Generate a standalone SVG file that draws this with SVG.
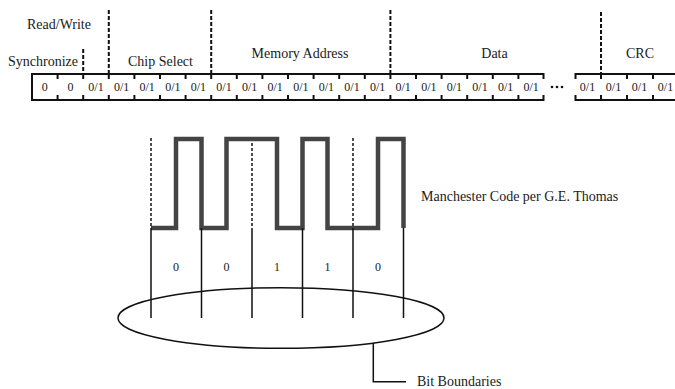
<svg xmlns="http://www.w3.org/2000/svg" width="675" height="389" viewBox="0 0 675 389" font-family="Liberation Serif, Times New Roman, DejaVu Serif, serif">
<style>
text{font-family:'Liberation Serif','Times New Roman','DejaVu Serif',serif;fill:#1a1a1a}
.lbl{font-size:14px}
.cell{font-size:12px;text-anchor:middle}
.bar{stroke:#111;stroke-width:2;fill:none}
.tick{stroke:#111;stroke-width:2}
.div{stroke:#111;stroke-width:2;stroke-dasharray:4 2}
.wdash{stroke:#222;stroke-width:1.6;stroke-dasharray:3 2}
.bound{stroke:#111;stroke-width:1.5}
.wave{stroke:#444;stroke-width:4.5;fill:none;stroke-linejoin:miter}
</style>
<rect width="675" height="389" fill="#fff"/>
<g id="frame">
<path class="bar" d="M544,74 H32 V100 H544"/>
<path class="bar" d="M675,74 H575 M575,100 H675"/>
<g class="tick">
<path d="M57.6,74v5M83.2,74v5M108.8,74v5M134.4,74v5M160,74v5M185.6,74v5M211.2,74v5M236.8,74v5M262.4,74v5M288,74v5M313.6,74v5M339.2,74v5M364.8,74v5M390.4,74v5M416,74v5M441.6,74v5M467.2,74v5M492.8,74v5M518.4,74v5M543.5,73v6"/>
<path d="M57.6,100v-5M83.2,100v-5M108.8,100v-5M134.4,100v-5M160,100v-5M185.6,100v-5M211.2,100v-5M236.8,100v-5M262.4,100v-5M288,100v-5M313.6,100v-5M339.2,100v-5M364.8,100v-5M390.4,100v-5M416,100v-5M441.6,100v-5M467.2,100v-5M492.8,100v-5M518.4,100v-5M543.5,101v-6"/>
<path d="M575.5,73v6M601,74v5M627,74v5M653,74v5M575.5,101v-6M601,100v-5M627,100v-5M653,100v-5"/>
</g>
<g class="cell">
<text x="44.8" y="91">0</text><text x="70.4" y="91">0</text>
<text x="96" y="91">0/1</text><text x="121.6" y="91">0/1</text><text x="147.2" y="91">0/1</text><text x="172.8" y="91">0/1</text><text x="198.4" y="91">0/1</text>
<text x="224" y="91">0/1</text><text x="249.6" y="91">0/1</text><text x="275.2" y="91">0/1</text><text x="300.8" y="91">0/1</text><text x="326.4" y="91">0/1</text><text x="352" y="91">0/1</text><text x="377.6" y="91">0/1</text>
<text x="403.2" y="91">0/1</text><text x="428.8" y="91">0/1</text><text x="454.4" y="91">0/1</text><text x="480" y="91">0/1</text><text x="505.6" y="91">0/1</text><text x="531.2" y="91">0/1</text>
<text x="587.5" y="91">0/1</text><text x="613.5" y="91">0/1</text><text x="639.5" y="91">0/1</text><text x="665.5" y="91">0/1</text>
</g>
<g fill="#111"><circle cx="552" cy="87" r="1.3"/><circle cx="557" cy="87" r="1.3"/><circle cx="562" cy="87" r="1.3"/></g>
</g>
<g id="fields">
<path class="div" d="M83.2,49V74M108.8,10V74M211.2,10V74M390.4,10V74M601,12V74"/>
<text class="lbl" x="27" y="29">Read/Write</text>
<text class="lbl" x="8" y="66">Synchronize</text>
<text class="lbl" x="160.5" y="66" text-anchor="middle">Chip Select</text>
<text class="lbl" x="300" y="58" text-anchor="middle">Memory Address</text>
<text class="lbl" x="494.5" y="58" text-anchor="middle">Data</text>
<text class="lbl" x="640" y="58" text-anchor="middle">CRC</text>
</g>
<g id="waveform">
<path class="wdash" d="M151,138V228M252,138V228M353,138V228"/>
<path class="wave" d="M151,228H176V139H201.5V228H226.5V139H277V228H302.5V139H327.5V228H378V139H403.5V228"/>
<text class="lbl" x="421" y="201">Manchester Code per G.E. Thomas</text>
</g>
<g id="bits">
<path class="bound" d="M151,228V318M201.5,228V318M252,228V318M302.5,228V318M353,228V318M403.5,228V318"/>
<g class="cell">
<text x="176" y="271">0</text><text x="226.5" y="271">0</text><text x="277" y="271">1</text><text x="327.5" y="271">1</text><text x="378" y="271">0</text>
</g>
</g>
<g id="bit-boundaries">
<ellipse cx="281" cy="318" rx="163" ry="30.3" fill="none" stroke="#111" stroke-width="1.5"/>
<text class="lbl" x="417" y="386">Bit Boundaries</text>
</g>
<g id="connectors">
<path d="M373.3,343V381.7H406" fill="none" stroke="#111" stroke-width="1.5"/>
</g>
</svg>
